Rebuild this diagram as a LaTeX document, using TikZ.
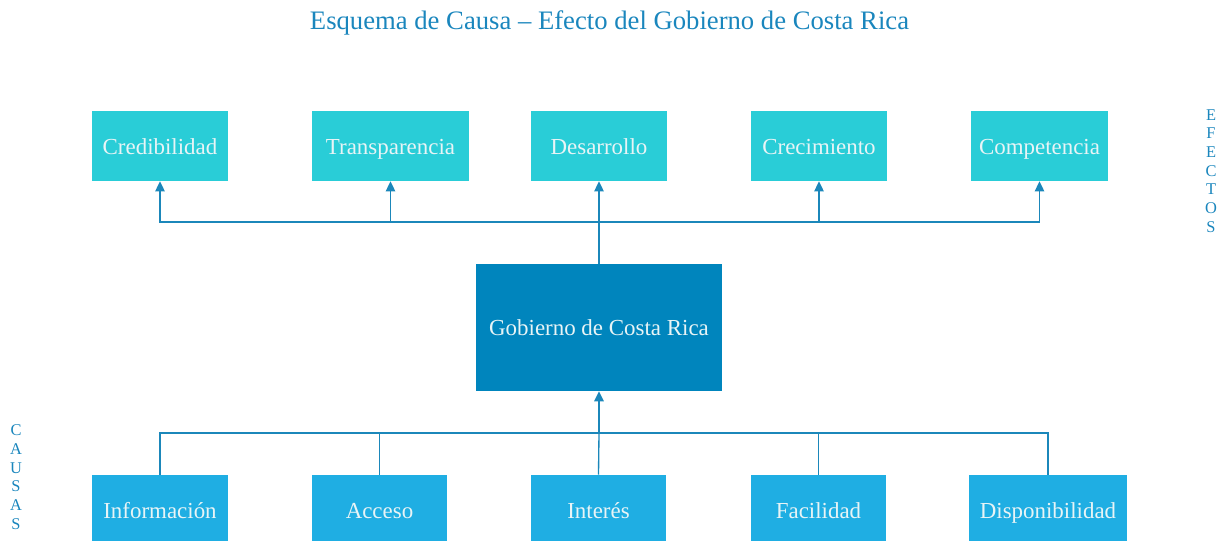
\documentclass[tikz,border=0pt]{standalone}
\usepackage{fontspec}
\setmainfont{Liberation Serif}
\usetikzlibrary{arrows.meta}
\definecolor{topc}{HTML}{29CDD7}
\definecolor{midc}{HTML}{0085BD}
\definecolor{botc}{HTML}{1FAEE3}
\definecolor{txtc}{HTML}{E8F4F6}
\definecolor{linec}{HTML}{1B87BA}
\definecolor{titlec}{HTML}{1A86BD}
\tikzset{
  box/.style={inner sep=0pt, minimum height=52.5pt, text=txtc,
    text height=14pt, text depth=2pt,
    font=\fontsize{17.2}{20}\selectfont},
  topbox/.style={box, fill=topc},
  botbox/.style={box, fill=botc},
  midbox/.style={box, fill=midc, minimum width=184.5pt, minimum height=95.25pt},
  conn/.style={draw=linec, line width=1pt},
  trunk/.style={draw=linec, line width=1.4pt},
  arr/.style={-{Triangle[width=7pt,length=7.5pt]}},
  vlabel/.style={text=titlec, font=\fontsize{12.3}{14}\selectfont, align=center, inner sep=0pt}
}
\begin{document}
\begin{tikzpicture}[x=0.75pt,y=-0.75pt]
\useasboundingbox (0,0) rectangle (1217,540);
\clip (0,0) rectangle (1217,540);
\node[text=titlec, font=\fontsize{20}{24}\selectfont, inner sep=0pt] (title) at (609.5,23) {Esquema de Causa – Efecto del Gobierno de Costa Rica};
% top boxes
\node[topbox, minimum width=102pt] (cred) at (160,146) {Credibilidad};
\node[topbox, minimum width=117.75pt] (trans) at (390.5,146) {Transparencia};
\node[topbox, minimum width=102pt] (desa) at (599,146) {Desarrollo};
\node[topbox, minimum width=102pt] (crec) at (819,146) {Crecimiento};
\node[topbox, minimum width=102.75pt] (comp) at (1039.5,146) {Competencia};
% center
\node[midbox] (gob) at (599,327.5) {Gobierno de Costa Rica};
% bottom boxes
\node[botbox, minimum width=102pt] (info) at (160,510) {Información};
\node[botbox, minimum width=101.25pt] (acce) at (379.5,510) {Acceso};
\node[botbox, minimum width=101.25pt] (inte) at (598.5,510) {Interés};
\node[botbox, minimum width=101.25pt] (faci) at (818.5,510) {Facilidad};
\node[botbox, minimum width=118.5pt] (disp) at (1048,510) {Disponibilidad};
% side labels
\node[vlabel] (efectos) at (1211,171) {E\\F\\E\\C\\T\\O\\S};
\node[vlabel] (causas) at (16,477) {C\\A\\U\\S\\A\\S};
% junctions
\coordinate (tj) at (599,222);
\coordinate (bj) at (599,433);
% top connectors
\draw[trunk] (gob.north) -- (tj);
\draw[conn, arr] (tj) -| (cred.south);
\draw[conn, arr] (tj) -| (trans.south);
\draw[conn, arr] (tj) -- (desa.south);
\draw[conn, arr] (tj) -| (crec.south);
\draw[conn, arr] (tj) -| (comp.south);
% bottom connectors
\draw[conn] (info.north) |- (bj);
\draw[conn] (acce.north) |- (bj);
\draw[conn] (faci.north) |- (bj);
\draw[conn] (disp.north) |- (bj);
\draw[conn] (inte.north) -- (bj);
\draw[trunk, arr] (bj) -- (gob.south);
\end{tikzpicture}
\end{document}
